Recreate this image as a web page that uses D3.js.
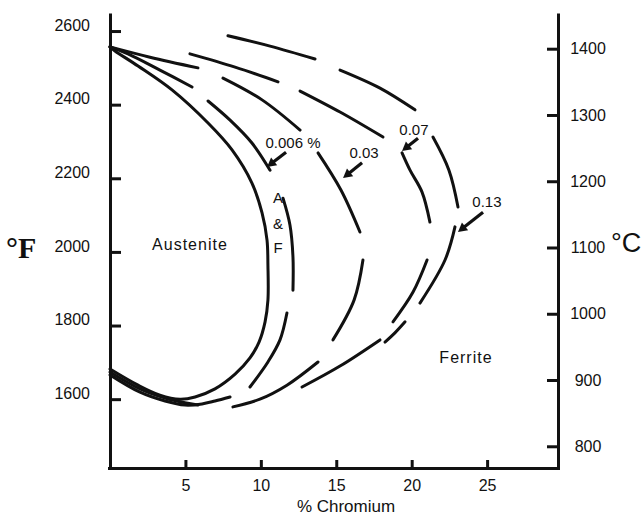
<!DOCTYPE html>
<html>
<head>
<meta charset="utf-8">
<script src="https://cdn.jsdelivr.net/npm/d3@7"></script>
<style>
  body { margin: 0; background: #fff; }
  svg text { font-family: "Liberation Sans", Arial, sans-serif; fill: #111; }
</style>
</head>
<body>
<svg id="chart" width="642" height="519"></svg>
<script>
// Tick values for the three axes
const fahrenheitTicks = [1600, 1800, 2000, 2200, 2400, 2600];
const celsiusTicks = [800, 900, 1000, 1100, 1200, 1300, 1400];
const chromiumTicks = [5, 10, 15, 20, 25];

// Austenite / (austenite + ferrite) boundary, [% Cr, °F]
const gammaBoundary = [
  [0, 2557], [0.33, 2546], [1.86, 2505], [4.11, 2440], [6.50, 2350], [8.09, 2277],
  [9.41, 2187], [10.08, 2106], [10.41, 2032], [10.47, 1964], [10.47, 1869],
  [10.28, 1810], [9.88, 1755], [9.28, 1712], [8.29, 1668], [6.96, 1628],
  [5.64, 1606], [4.64, 1600], [3.31, 1611], [1.86, 1638], [0, 1682]
];

// (austenite + ferrite) / ferrite limits for each carbon content, drawn as dash pieces
const carbon006 = [
  [[0, 2557], [1.19, 2538], [3.31, 2494], [5.44, 2448]],
  [[6.50, 2410], [7.96, 2358], [9.41, 2296], [10.61, 2222]],
  [[11.47, 2146], [11.93, 2073], [12.13, 1986], [12.13, 1896]],
  [[11.73, 1834], [11.27, 1761], [10.47, 1701], [9.28, 1633]],
  [[7.96, 1606], [6.96, 1595], [6.10, 1587], [4.97, 1584], [3.65, 1595], [1.99, 1619], [0, 1666]]
];
const carbon03 = [
  [[0, 2557], [2.65, 2529], [5.83, 2500]],
  [[7.49, 2472], [10.08, 2413], [12.60, 2331]],
  [[13.79, 2269], [15.31, 2168], [16.57, 2054]],
  [[16.77, 1978], [16.18, 1869], [14.78, 1761]],
  [[13.79, 1701], [11.73, 1638], [9.94, 1600], [8.15, 1579]],
  [[5.83, 1584], [4.97, 1590], [3.65, 1603], [1.99, 1628], [0, 1674]]
];
const carbon07 = [
  [[5.30, 2538], [8.29, 2502], [11.14, 2462]],
  [[12.60, 2437], [15.25, 2380], [18.10, 2312]],
  [[19.36, 2269], [19.89, 2222], [20.68, 2163], [21.21, 2081]],
  [[21.02, 1978], [20.09, 1891], [18.76, 1810]],
  [[17.90, 1761], [15.25, 1690], [12.73, 1633]]
];
const carbon13 = [
  [[7.82, 2587], [10.61, 2559], [13.59, 2524]],
  [[15.25, 2494], [17.90, 2445], [20.22, 2386]],
  [[21.41, 2312], [22.47, 2222], [23.07, 2122]],
  [[22.87, 2068], [22.21, 1978], [20.55, 1861]],
  [[19.56, 1810], [18.89, 1780], [18.23, 1755]]
];

// Carbon labels and their pointer arrows, [% Cr, °F]
const carbonLabels = ["0.006 %", "0.03", "0.07", "0.13"];
const labelAnchors = [[12.13, 2282], [16.84, 2255], [20.15, 2318], [24.99, 2122]];
const arrowTails = [[11.67, 2271], [16.71, 2242], [20.42, 2309], [24.73, 2108]];
const arrowTips = [[10.41, 2231], [15.45, 2201], [19.36, 2274], [23.07, 2054]];

// Phase field names
const phaseNames = ["Austenite", "Ferrite"];
const phaseAnchors = [[5.30, 2005], [23.6, 1698]];
const twoPhaseLetters = ["A", "&", "F"];
const twoPhaseAnchors = [[11.14, 2133], [11.14, 2063], [11.14, 1997]];

const svg = d3.select("#chart");
const ink = "#111";

const x = d3.scaleLinear().domain([0, 29.7]).range([110, 558]);
const y = d3.scaleLinear().domain([1413, 2649]).range([468, 13]);
const toC = f => (f - 32) / 1.8;
const yC = d3.scaleLinear().domain([toC(1413), toC(2649)]).range([468, 13]);

// Axes, ticks pointing into the plot
const styleAxis = g => {
  g.select(".domain").attr("stroke", ink).attr("stroke-width", 3);
  g.selectAll(".tick line").attr("stroke", ink).attr("stroke-width", 3);
  g.selectAll(".tick text").attr("fill", ink).style("font-size", "16px");
};

svg.append("g")
  .attr("transform", "translate(110,0)")
  .call(d3.axisLeft(y).tickValues(fahrenheitTicks).tickSizeInner(-11).tickSizeOuter(0)
    .tickPadding(20).tickFormat(d3.format("d")))
  .call(styleAxis)
  .call(g => g.selectAll(".tick text").attr("dy", "-0.05em"));

svg.append("g")
  .attr("transform", "translate(558,0)")
  .call(d3.axisRight(yC).tickValues(celsiusTicks).tickSizeInner(-11).tickSizeOuter(0)
    .tickPadding(30).tickFormat(d3.format("d")))
  .call(styleAxis)
  .call(g => g.selectAll(".tick text").attr("text-anchor", "middle"));

svg.append("g")
  .attr("transform", "translate(0,468)")
  .call(d3.axisBottom(x).tickValues(chromiumTicks).tickSizeInner(-8).tickSizeOuter(0)
    .tickPadding(12))
  .call(styleAxis)
  .call(g => g.select(".domain").attr("d", "M108,0.5H560"));

// Axis titles
svg.append("text").attr("x", 346).attr("y", 512).attr("text-anchor", "middle")
  .style("font-size", "17px").text("% Chromium");
svg.append("text").attr("x", 6).attr("y", 258)
  .style("font-family", "'Liberation Serif', 'DejaVu Serif', serif")
  .style("font-size", "30px").style("font-weight", "bold").text("°F");
svg.append("text").attr("x", 611).attr("y", 252)
  .style("font-size", "27px").text("°C");

// Boundary curves
const line = d3.line()
  .x(d => x(d[0])).y(d => y(d[1]))
  .curve(d3.curveCatmullRom.alpha(0.5));

const curves = svg.append("g")
  .attr("fill", "none").attr("stroke", ink)
  .attr("stroke-width", 3).attr("stroke-linecap", "round").attr("stroke-linejoin", "round");

curves.append("path").attr("d", line(gammaBoundary));

[carbon006, carbon03, carbon07, carbon13].forEach(pieces => {
  curves.selectAll(null).data(pieces).enter().append("path").attr("d", d => line(d));
});

// Carbon content labels with arrows
carbonLabels.forEach((label, i) => {
  svg.append("text")
    .attr("x", x(labelAnchors[i][0])).attr("y", y(labelAnchors[i][1]))
    .attr("text-anchor", "middle").style("font-size", "15px").text(label);

  const x0 = x(arrowTails[i][0]), y0 = y(arrowTails[i][1]);
  const x1 = x(arrowTips[i][0]), y1 = y(arrowTips[i][1]);
  const len = Math.hypot(x1 - x0, y1 - y0);
  const ux = (x1 - x0) / len, uy = (y1 - y0) / len;
  const head = 9, half = 5;
  const bx = x1 - ux * head, by = y1 - uy * head;
  svg.append("line")
    .attr("x1", x0).attr("y1", y0).attr("x2", bx + ux).attr("y2", by + uy)
    .attr("stroke", ink).attr("stroke-width", 3.2);
  svg.append("path")
    .attr("d", `M${x1},${y1}L${bx - uy * half},${by + ux * half}L${bx + uy * half},${by - ux * half}Z`)
    .attr("fill", ink);
});

// Phase field labels
phaseNames.forEach((name, i) => {
  svg.append("text")
    .attr("x", x(phaseAnchors[i][0])).attr("y", y(phaseAnchors[i][1]))
    .attr("text-anchor", "middle").style("font-size", "16px")
    .style("letter-spacing", "1px").text(name);
});
twoPhaseLetters.forEach((ch, i) => {
  svg.append("text")
    .attr("x", x(twoPhaseAnchors[i][0])).attr("y", y(twoPhaseAnchors[i][1]))
    .attr("text-anchor", "middle").style("font-size", "15px").text(ch);
});
</script>
</body>
</html>
